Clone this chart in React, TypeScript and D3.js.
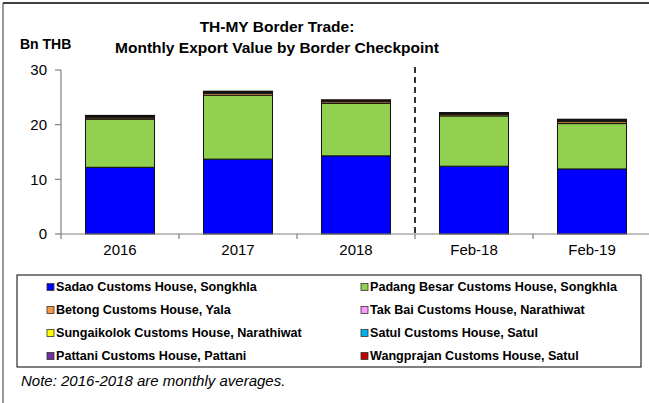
import React from "react";
import * as d3 from "d3";

const categories = ["2016", "2017", "2018", "Feb-18", "Feb-19"];

const seriesNames = [
  "Sadao Customs House, Songkhla",
  "Padang Besar Customs House, Songkhla",
  "Betong Customs House, Yala",
  "Tak Bai Customs House, Narathiwat",
  "Sungaikolok Customs House, Narathiwat",
  "Satul Customs House, Satul",
  "Pattani Customs House, Pattani",
  "Wangprajan Customs House, Satul",
];

const seriesColors = [
  "#0000ff",
  "#92d050",
  "#f79646",
  "#ff99ff",
  "#ffff00",
  "#00b0f0",
  "#7030a0",
  "#c00000",
];

// values per checkpoint, in category order (Bn THB)
const sadao = [12.2, 13.7, 14.3, 12.4, 11.9];
const padangBesar = [8.8, 11.7, 9.6, 9.2, 8.3];
const betong = [0.25, 0.35, 0.3, 0.25, 0.35];
const takBai = [0.1, 0.08, 0.08, 0.08, 0.08];
const sungaikolok = [0.15, 0.12, 0.1, 0.12, 0.15];
const satul = [0.1, 0.1, 0.08, 0.1, 0.12];
const pattani = [0.02, 0.02, 0.02, 0.02, 0.03];
const wangprajan = [0.08, 0.05, 0.04, 0.05, 0.07];

const seriesValues = [sadao, padangBesar, betong, takBai, sungaikolok, satul, pattani, wangprajan];

const yTicks = [0, 10, 20, 30];

const App = () => {
  const width = 649;
  const height = 403;

  const x = d3.scaleBand().domain(categories).range([61, 651]).paddingInner(0.415).paddingOuter(0.2075);
  const y = d3.scaleLinear().domain([0, 30]).range([234, 70]);

  const table = categories.map((c, i) => {
    const row: any = { cat: c };
    seriesNames.forEach((s, j) => (row[s] = seriesValues[j][i]));
    return row;
  });
  const stacked = d3.stack().keys(seriesNames)(table);

  const step = x.step();
  const boundaries = d3.range(categories.length + 1).map((i) => 61 + i * step);

  const font = "'Liberation Sans', Arial, sans-serif";

  return (
    <svg
      width={width}
      height={height}
      style={{ position: "absolute", left: 0, top: 0, background: "#fff" }}
      fontFamily={font}
    >
      {/* frame */}
      <line x1={3} y1={3} x2={width} y2={3} stroke="#000" strokeWidth={1.5} />
      <line x1={3} y1={3} x2={3} y2={height} stroke="#555" strokeWidth={1.2} />

      {/* title */}
      <text x={277} y={32} textAnchor="middle" fontSize={15.5} fontWeight="bold">
        TH-MY Border Trade:
      </text>
      <text x={277} y={53} textAnchor="middle" fontSize={15.5} fontWeight="bold">
        Monthly Export Value by Border Checkpoint
      </text>
      <text x={20} y={49} fontSize={14} fontWeight="bold">
        Bn THB
      </text>

      {/* bars */}
      {stacked.map((layer, j) => (
        <g key={layer.key} fill={seriesColors[j]}>
          {layer.map((d, i) => (
            <rect
              key={i}
              x={x(categories[i])}
              y={y(d[1])}
              width={x.bandwidth()}
              height={y(d[0]) - y(d[1])}
              stroke="#111"
              strokeWidth={1}
            />
          ))}
        </g>
      ))}

      {/* y axis */}
      <line x1={61} y1={y(30)} x2={61} y2={y(0)} stroke="#808080" strokeWidth={1.2} />
      {yTicks.map((t) => (
        <g key={t}>
          <line x1={55} y1={y(t)} x2={61} y2={y(t)} stroke="#808080" strokeWidth={1.2} />
          <text x={47} y={y(t)} dy="0.35em" textAnchor="end" fontSize={15}>
            {t}
          </text>
        </g>
      ))}

      {/* x axis */}
      <line x1={61} y1={y(0)} x2={651} y2={y(0)} stroke="#808080" strokeWidth={1.2} />
      {boundaries.map((b, i) => (
        <line key={i} x1={b} y1={y(0)} x2={b} y2={y(0) + 5} stroke="#808080" strokeWidth={1.2} />
      ))}
      {categories.map((c) => (
        <text key={c} x={(x(c) as number) + x.bandwidth() / 2} y={255} textAnchor="middle" fontSize={15}>
          {c}
        </text>
      ))}

      {/* divider between annual averages and monthly values */}
      <line
        x1={boundaries[3]}
        y1={67}
        x2={boundaries[3]}
        y2={y(0)}
        stroke="#000"
        strokeWidth={1.6}
        strokeDasharray="6,4"
      />

      {/* legend */}
      <rect x={17} y={275} width={624} height={92} fill="#fff" stroke="#000" strokeWidth={1} />
      {seriesNames.map((s, j) => {
        const col = j % 2;
        const row = Math.floor(j / 2);
        const lx = col === 0 ? 47 : 361;
        const ly = 287 + row * 23;
        return (
          <g key={s}>
            <rect x={lx} y={ly - 3.5} width={7} height={7} fill={seriesColors[j]} stroke="#333" strokeWidth={0.8} />
            <text x={lx + 9} y={ly} dy="0.35em" fontSize={12.6} fontWeight="bold">
              {s}
            </text>
          </g>
        );
      })}

      {/* note */}
      <text x={21} y={386} fontSize={15} fontStyle="italic">
        Note: 2016-2018 are monthly averages.
      </text>
    </svg>
  );
};

export default App;
